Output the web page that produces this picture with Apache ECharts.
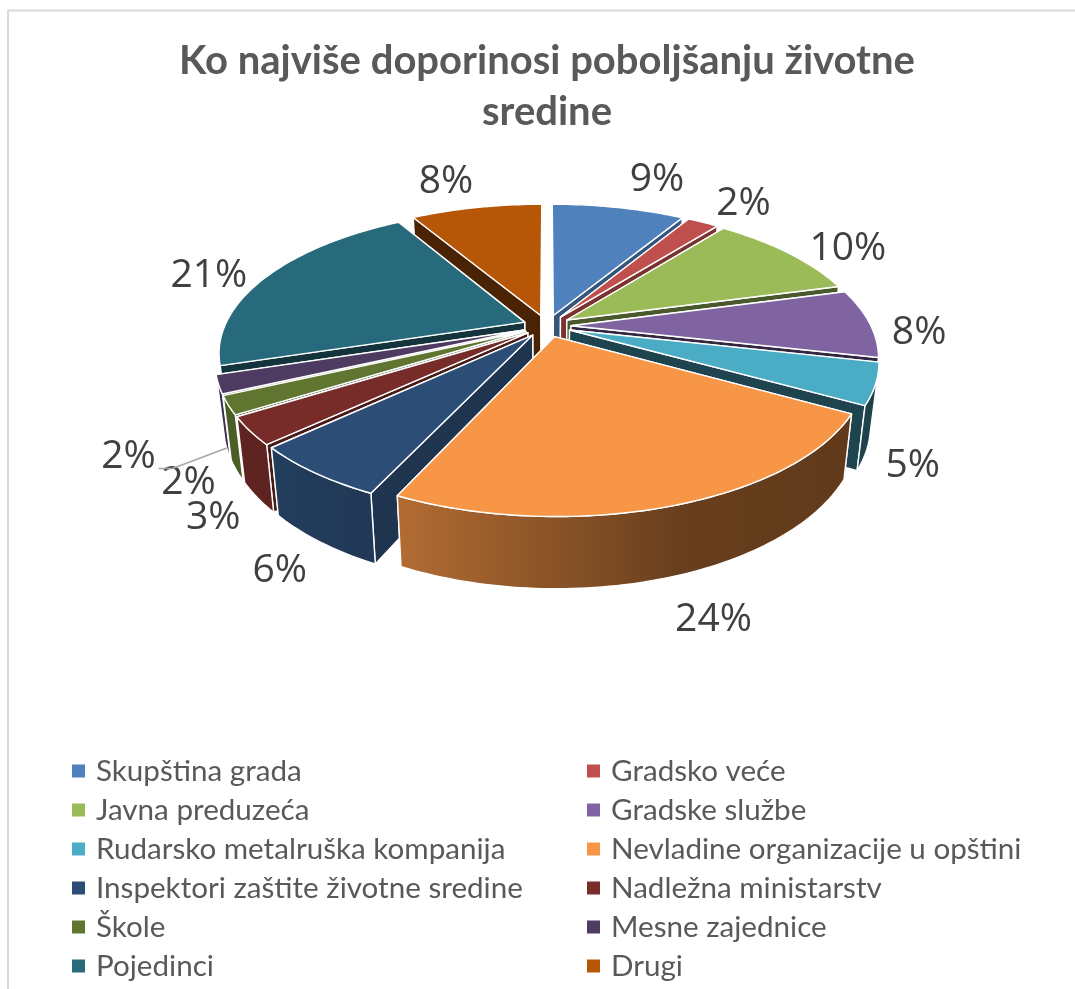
<!DOCTYPE html>
<html><head><meta charset="utf-8">
<style>html,body{margin:0;padding:0;background:#fff}#c{width:1075px;height:989px}</style>
<script src="https://cdn.jsdelivr.net/npm/echarts@6/dist/echarts.min.js"></script>
</head><body><div id="c"></div>
<script>
const categories = ['Skupština grada','Gradsko veće','Javna preduzeća','Gradske službe','Rudarsko metalruška kompanija','Nevladine organizacije u opštini','Inspektori zaštite životne sredine','Nadležna ministarstv','Škole','Mesne zajednice','Pojedinci','Drugi'];
const values = [8.5,2.0,10.0,7.6,4.5,23.5,6.0,3.0,2.0,2.0,21.0,8.4];
const colors = ['#4F81BD','#C0504D','#9BBB59','#8064A2','#4BACC6','#F79646','#2C4D75','#772C2A','#5F7530','#4D3B62','#276A7C','#B65708'];
const titleText = 'Ko najviše doporinosi poboljšanju životne\nsredine';
// label placement: offset in px from the point just outside each slice's rim
const labelNudge = [[32,-17],[26,-9],[36,3],[14,10],[-3,21],[22,34],[-3,24],[2,19],[0,14],[-50,11],[-29,4],[-24,-15]];
const labelFont = 'Open Sans';
const legendFont = 'Lato';

const cx=547, cy=326, R=300, Rv=138, K=0.205, E=0.08, H=60, BOT=0.975, FRONT=-0.3;
const total = values.reduce((a,b)=>a+b,0);
const ang = []; let acc=0;
values.forEach(v=>{const s=acc/total*2*Math.PI; acc+=v; ang.push([s,acc/total*2*Math.PI]);});
function shade(hex,f){const n=parseInt(hex.slice(1),16);const c=[n>>16,(n>>8)&255,n&255].map(v=>Math.round(v*f));return 'rgb('+c.join(',')+')';}
function proj(X,Y,bottom){const s=1/(1+K*Y);const b=bottom?BOT:1;return [cx+R*X*s*b, cy-Rv*Y*s*b+(bottom?H*s:0)];}
function pt(i,th,r,bottom){const m=(ang[i][0]+ang[i][1])/2;return proj(r*Math.sin(th)+E*Math.sin(m),r*Math.cos(th)+E*Math.cos(m),bottom);}
const wallStops=[[250,.8],[400,.72],[560,.55],[680,.42],[900,.38]];
function wallF(x){
  if(x<=wallStops[0][0])return wallStops[0][1];
  for(let j=1;j<wallStops.length;j++){if(x<=wallStops[j][0]){const a=wallStops[j-1],b=wallStops[j];return a[1]+(b[1]-a[1])*(x-a[0])/(b[0]-a[0]);}}
  return wallStops[wallStops.length-1][1];
}
function renderSlice(i){
  return function(params,api){
    const c=colors[i];
    const [a,b]=ang[i]; const n=Math.max(6,Math.ceil((b-a)/0.02));
    const rim=[],wallTop=[],wallBot=[];
    for(let j=0;j<=n;j++){const t=a+(b-a)*j/n;const p=pt(i,t,1,false);rim.push(p);
      if(Math.cos(t)<=FRONT){wallTop.push(p);wallBot.push(pt(i,t,1,true));}}
    const ap=pt(i,a,0,false),apB=pt(i,a,0,true);
    const pA=pt(i,a,1,true),pB=pt(i,b,1,true);
    const line={stroke:'#fff',lineWidth:1.4,lineJoin:'round'};
    const walls=[{nX:-Math.cos(a),nY:Math.sin(a),p:rim[0],q:pA},{nX:Math.cos(b),nY:-Math.sin(b),p:rim[n],q:pB}];
    walls.sort((u,v)=>v.nY-u.nY);
    const kids=[];
    walls.forEach(w=>{kids.push({type:'polygon',shape:{points:[ap,w.p,w.q,apB]},style:Object.assign({fill:shade(c,.4+.3*Math.max(0,w.nX))},line)});});
    if(wallTop.length>1){
      let minx=1e9,maxx=-1e9;wallTop.forEach(p=>{minx=Math.min(minx,p[0]);maxx=Math.max(maxx,p[0]);});
      const span=Math.max(maxx-minx,1);const stops=[];
      for(let j=0;j<=8;j++){stops.push({offset:j/8,color:shade(c,wallF(minx+span*j/8))});}
      const grad=new echarts.graphic.LinearGradient(minx,0,minx+span,0,stops,true);
      kids.push({type:'polygon',shape:{points:wallTop.concat(wallBot.slice().reverse())},style:Object.assign({fill:grad},line)});
    }
    kids.push({type:'polygon',shape:{points:[ap].concat(rim)},style:Object.assign({fill:c},line)});
    return {type:'group',children:kids};
  };
}
const series=categories.map((name,i)=>{
  const m=(ang[i][0]+ang[i][1])/2;
  return {type:'custom',name,coordinateSystem:'none',z:10-Math.cos(m)*5,data:[[values[i]]],itemStyle:{color:colors[i]},renderItem:renderSlice(i),silent:true,animation:false};
});
series.push({type:'custom',name:'labels',coordinateSystem:'none',z:20,silent:true,animation:false,data:values.map(v=>[v]),
  renderItem(params,api){
    const i=params.dataIndex;const m=(ang[i][0]+ang[i][1])/2;
    const p=pt(i,m,1.12,false);const bot=Math.cos(m)<0?H*0.9:0;
    const x=p[0]+labelNudge[i][0],y=p[1]+bot+labelNudge[i][1];
    const kids=[{type:'text',style:{x,y,text:Math.round(api.value(0))+'%',fill:'#404040',font:'39px "'+labelFont+'"',textAlign:'center',textVerticalAlign:'middle'}}];
    if(i===9){kids.push({type:'polyline',shape:{points:[[x+30,y+12],[x+44,y+12],pt(i,m,1,true)]},style:{stroke:'#A6A6A6',lineWidth:1.5,fill:null}});}
    return {type:'group',children:kids};
  }});
const legendCommon={orient:'vertical',itemWidth:13,itemHeight:13,itemGap:9,icon:'rect',top:756,textStyle:{fontFamily:legendFont,fontSize:29.6,color:'#595959',lineHeight:30,padding:[0,0,0,6]},selectedMode:false,padding:0};
const chart=echarts.init(document.getElementById('c'),null,{renderer:'canvas'});
chart.setOption({animation:false,backgroundColor:'#fff',
 title:{text:titleText,left:542,textAlign:'center',top:31,textStyle:{fontFamily:'Lato',fontWeight:'bold',fontSize:40,lineHeight:51,color:'#595959'}},
 legend:[Object.assign({left:72,data:categories.filter((c,i)=>i%2===0)},legendCommon),Object.assign({left:587,data:categories.filter((c,i)=>i%2===1)},legendCommon)],
 graphic:[{type:'polyline',silent:true,shape:{points:[[8,989],[8,10.5],[1075,10.5]]},style:{stroke:'#d9d9d9',lineWidth:2,fill:null}}],
 series});
</script></body></html>
